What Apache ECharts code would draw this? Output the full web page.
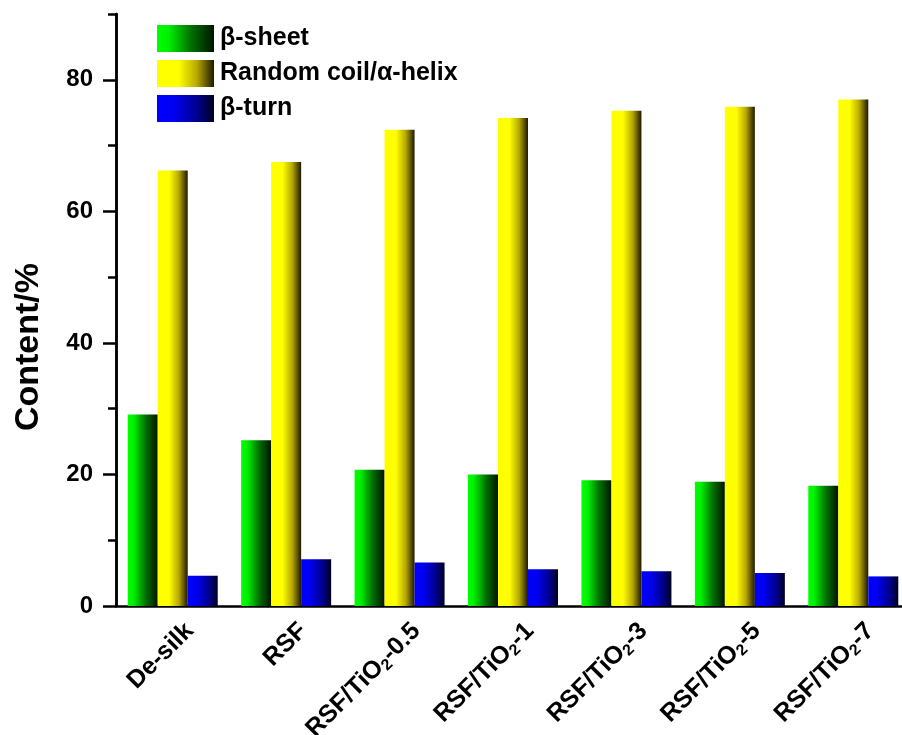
<!DOCTYPE html>
<html>
<head>
<meta charset="utf-8">
<script src="https://cdn.jsdelivr.net/npm/echarts@6/dist/echarts.min.js"></script>
<style>
  html, body { margin: 0; padding: 0; background: #fff; }
  #chart { width: 902px; height: 735px; }
</style>
</head>
<body>
<div id="chart"></div>
<script>
// Secondary structure content of silk fibroin samples (%)
const categories = ['De-silk', 'RSF', 'RSF/TiO2-0.5', 'RSF/TiO2-1', 'RSF/TiO2-3', 'RSF/TiO2-5', 'RSF/TiO2-7'];
const seriesNames = ['\u03b2-sheet', 'Random coil/\u03b1-helix', '\u03b2-turn'];
const betaSheet = [29.1, 25.2, 20.7, 20.0, 19.1, 18.9, 18.3];
const randomCoil = [66.2, 67.5, 72.4, 74.2, 75.3, 75.9, 77.0];
const betaTurn = [4.6, 7.1, 6.6, 5.6, 5.3, 5.0, 4.5];
const majorTicks = [0, 20, 40, 60, 80];
const minorTicks = [10, 30, 50, 70, 90];

const FONT = "'Liberation Sans', Arial, sans-serif";

// horizontal shading: bright on the left fading to near black on the right
function shade(stops) {
  return new echarts.graphic.LinearGradient(0, 0, 1, 0,
    stops.map(s => ({ offset: s[0], color: s[1] })));
}
const greenFill = shade([[0, '#00ff00'], [0.2, '#00f000'], [0.6, '#007000'], [1, '#001400']]);
const yellowFill = shade([[0, '#ffff00'], [0.38, '#ffff00'], [0.7, '#b8a800'], [1, '#1e1800']]);
const blueFill = shade([[0, '#0000ff'], [0.3, '#0000f0'], [0.7, '#000090'], [1, '#000020']]);

function bar(name, data, fill) {
  return {
    name: name,
    type: 'bar',
    data: data,
    barWidth: 30,
    barGap: '0%',
    itemStyle: { color: fill },
    emphasis: { disabled: true }
  };
}

const axisLineStyle = { color: '#000', width: 2.5 };

const chart = echarts.init(document.getElementById('chart'), null, { renderer: 'canvas' });
chart.setOption({
  animation: false,
  backgroundColor: '#fff',
  textStyle: { fontFamily: FONT },
  grid: { left: 116, top: 14, width: 794, height: 592, containLabel: false, outerBoundsMode: 'none' },
  legend: {
    orient: 'vertical',
    left: 157,
    top: 25,
    padding: 0,
    itemWidth: 57,
    itemHeight: 27,
    itemGap: 8,
    icon: 'rect',
    data: seriesNames,
    textStyle: { fontFamily: FONT, fontSize: 25, fontWeight: 'bold', color: '#000', padding: [0, 0, 0, 1] }
  },
  xAxis: {
    type: 'category',
    data: categories,
    axisLine: { lineStyle: axisLineStyle },
    axisTick: { show: false },
    axisLabel: {
      interval: 0,
      rotate: 45,
      margin: 38,
      color: '#000',
      fontFamily: FONT,
      fontSize: 25,
      fontWeight: 'bold',
      lineHeight: 28,
      padding: [0, -24, 0, 0],
      formatter: v => v.replace('TiO2', 'TiO{sub|2}'),
      rich: {
        sub: { fontSize: 16, fontWeight: 'bold', fontFamily: FONT, color: '#000', verticalAlign: 'bottom', lineHeight: 17 }
      }
    }
  },
  yAxis: [
    {
      type: 'value',
      min: 0,
      max: 90,
      interval: 10,
      position: 'left',
      axisLine: { show: true, lineStyle: axisLineStyle },
      axisTick: { show: true, inside: false, length: 13, lineStyle: { width: 2.5, color: '#000' }, customValues: majorTicks },
      axisLabel: { customValues: majorTicks, margin: 23, color: '#000', fontFamily: FONT, fontSize: 24, fontWeight: 'bold' },
      splitLine: { show: false }
    },
    {
      type: 'value',
      min: 0,
      max: 90,
      interval: 10,
      position: 'left',
      offset: 0,
      axisLine: { show: true, lineStyle: axisLineStyle },
      axisTick: { show: true, inside: false, length: 8, lineStyle: { width: 2.5, color: '#000' }, customValues: minorTicks },
      axisLabel: { show: false },
      splitLine: { show: false }
    }
  ],
  graphic: [
    {
      type: 'text',
      x: 29,
      y: 347,
      rotation: Math.PI / 2,
      style: {
        text: 'Content/%',
        fill: '#000',
        font: "bold 34px 'Liberation Sans', Arial, sans-serif",
        align: 'center',
        verticalAlign: 'middle'
      }
    }
  ],
  series: [
    bar(seriesNames[0], betaSheet, greenFill),
    bar(seriesNames[1], randomCoil, yellowFill),
    bar(seriesNames[2], betaTurn, blueFill)
  ]
});
</script>
</body>
</html>
